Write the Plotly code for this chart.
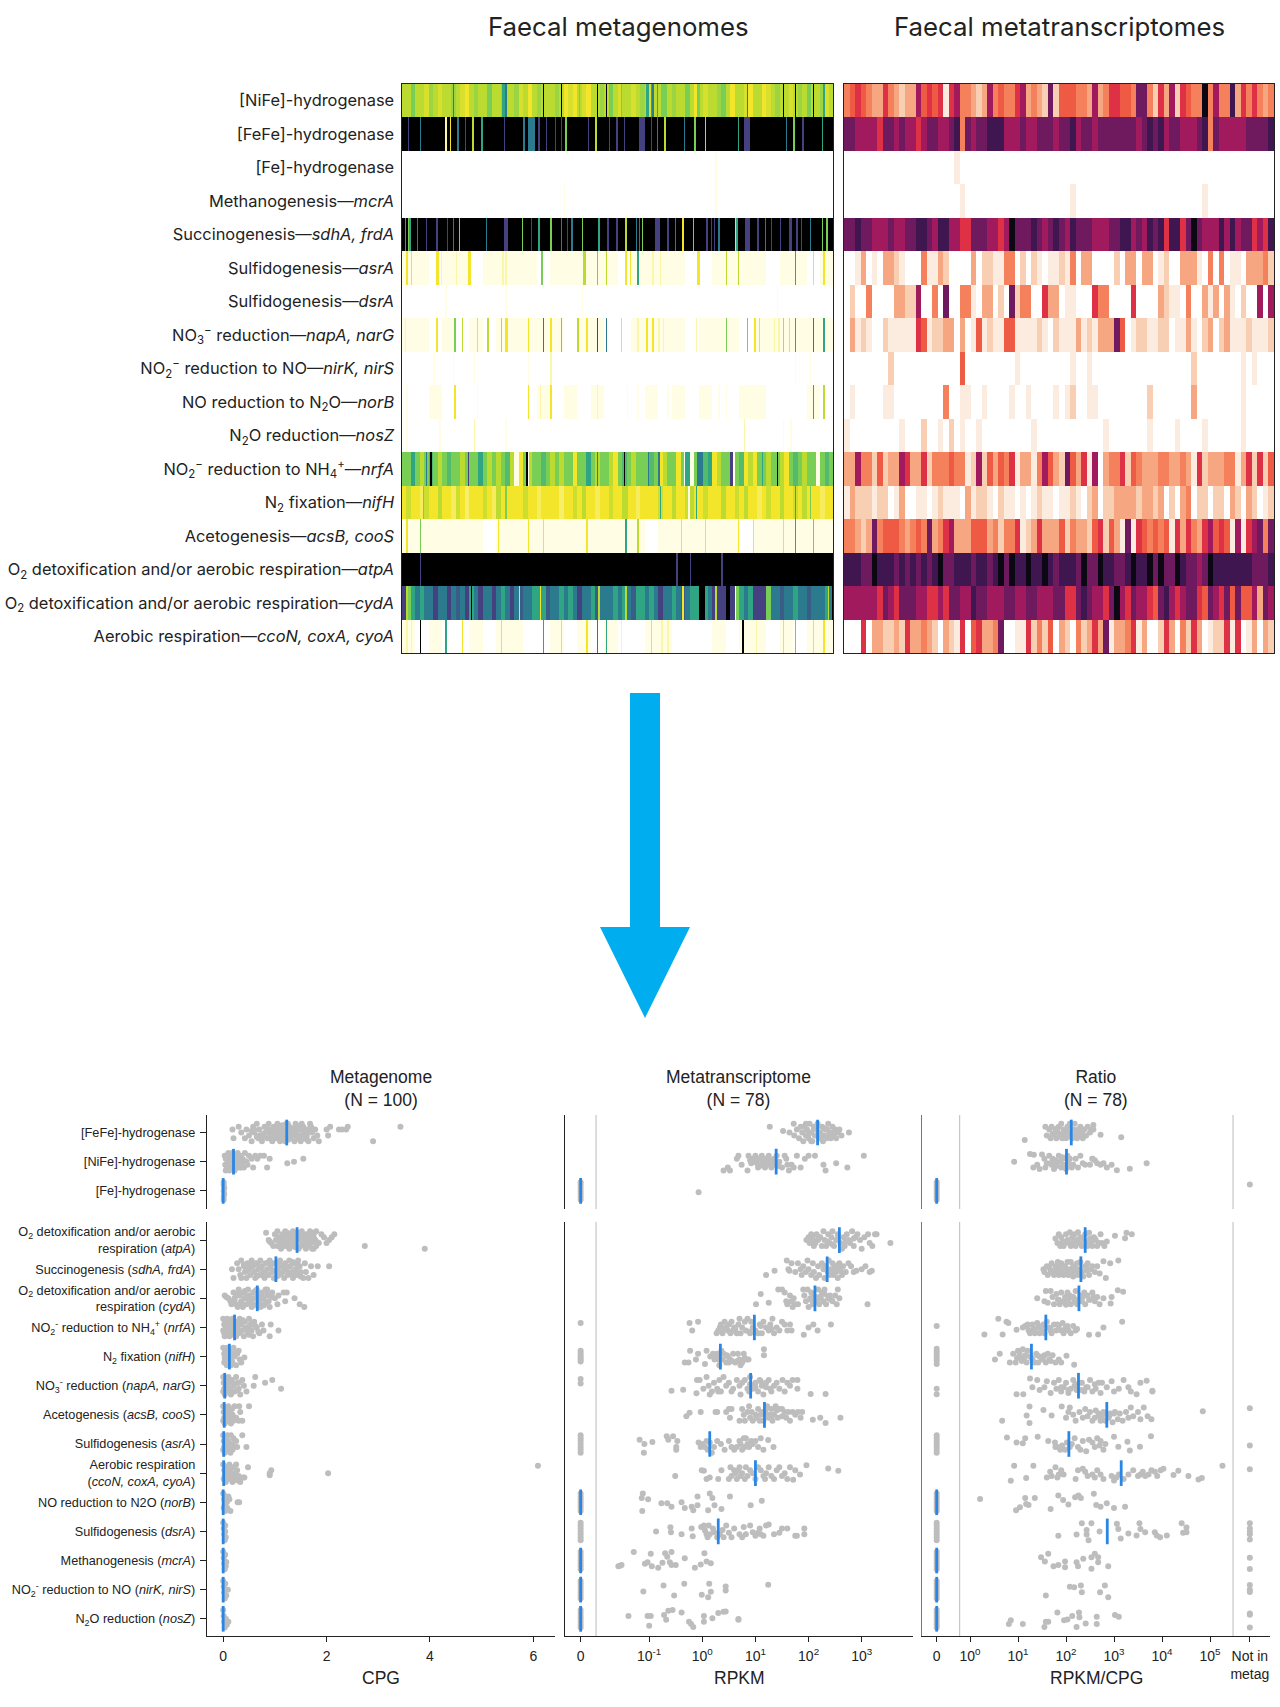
import numpy as np
import plotly.graph_objects as go

W, H = 1280, 1707
def px(x): return x / W
def py(y): return 1 - y / H

# ---------- heatmap labels ----------
heat_labels = ["[NiFe]-hydrogenase", "[FeFe]-hydrogenase", "[Fe]-hydrogenase", "Methanogenesis—<i>mcrA</i>",
    "Succinogenesis—<i>sdhA, frdA</i>", "Sulfidogenesis—<i>asrA</i>", "Sulfidogenesis—<i>dsrA</i>",
    "NO<sub>3</sub><sup>−</sup> reduction—<i>napA, narG</i>", "NO<sub>2</sub><sup>−</sup> reduction to NO—<i>nirK, nirS</i>",
    "NO reduction to N<sub>2</sub>O—<i>norB</i>", "N<sub>2</sub>O reduction—<i>nosZ</i>",
    "NO<sub>2</sub><sup>−</sup> reduction to NH<sub>4</sub><sup>+</sup>—<i>nrfA</i>", "N<sub>2</sub> fixation—<i>nifH</i>",
    "Acetogenesis—<i>acsB, cooS</i>", "O<sub>2</sub> detoxification and/or aerobic respiration—<i>atpA</i>",
    "O<sub>2</sub> detoxification and/or aerobic respiration—<i>cydA</i>", "Aerobic respiration—<i>ccoN, coxA, cyoA</i>"]

# ---------- metagenome heatmap: coarse level per row + narrow stripes [column of 288, level] ----------
mg_base = [
 [4,4,5,4,4,3.5,4.5,4,3.5,4,4,4.5,4,3.5,3,4,4.5,4,4,5,4,4,4.5,4,4,4.5,3.5,4,3,4,4.5,4,4,4,4.5,4,3,3.5,3,4,3.5,3,4,4,4.5,4,5,4,3.5,4,4,3.5,4,4.5,4,3.5,4,4,5,4,4.5,4,4,5,4,3,4,3.5,4,4,4.5,5,4,3,4,4,3.5,3,4,4,3,3.5,4,4.5,4,4,3.5,4,4.5,4,5,4,4,4.5,3.5,4],
 [9], [0], [0], [9],
 [1,1,0,1,1,0,1,1,1,1,0,1,1,1,1,1,0,1,1,1,1,0,0,1,1,1,1,0,1,1,0,1],
 [0],
 [1,1,0,1,0,1,0,1,1,1,1,1,0,1,1,0,0,1,1,1,1,0,1,1,1,0,1,1,1,1,1,1],
 [0], [0,0,1,0,0,0,0,0,0,0,1,0,1,0,1,0,0,0,1,0,1,0,1,0,0,1,1,0,0,0,1,0], [0],
 [5,5,6,5,4,5,5.5,5,4,5,5.5,5,5,4,5,5,5,6,5,4,5,4,5,5.5,4,1,3,5,4,5,5,5.5,5,4,5,4,5,5,3,5,5,6,5,4,5,5,4,3,5,5.5,5,4,5,5,5,5.5,5,3,4,5,5,3,5,6,1,5,5,5.5,6,3,4,5,5,5,5,5.5,3,4,3,5,5,4,5,5,4,3,5,5.5,5,4,5,5,1,5,5.5,5],
 [3,3.7,3,3,2.6,3.7,3,3,4,3,3,2.6,3.7,3,2.5,3,3,3,3.7,3,2.6,4,3,3,3,3,3,3.7,3,3,2.6,3,3,3,3,2.5,3,3,3.7,3,4,3,3,2.6,3,3,3.7,3,3,4,3,3,2.6,3,3,3,3,3.7,3,3,4,3,3,3.7,4,3,3,3.7,3,3,3,4,3,3,3.7,3,4,3,3,2.6,3,3.7,3,3,4,3,3,3.7,3,4,3,3,3,2.6,3,3],
 [1,1,1,1,1,1,0,1,1,1,1,1,1,1,1,1,1,1,0,1,1,1,1,1,1,0,1,1,1,1,1,1],
 [9],
 [8,5,6,7,6,7,7,8,7,7,8,7,7.5,7,8,6,7,8,7,7,8,7,6,7,8,7,7.5,7,7,6,6,6,7.5,7,7,6,7,6,7,8,7,7,6,7.5,7,7,7,6,7,6,7,7.5,6,6,7,6,7,8,7,7,6,7,7.5,7,6,6,7,6,7,8,8,8,9,8,7,6,7,6,8,8,8,5,7,7,7.5,7,7,6,7,7,7.5,7,7,7,6,7],
 [1,0,1,0,0,1,0,1,1,0,0,1,0,1,0,1,0,0,1,1,0,0,0,1,0,1,1,0,1,0,1,1],
]
mg_stripes = [
 [[34,7],[58,5],[67,6],[68,6],[69,7],[94,9],[106,9],[118,5],[130,9],[136,9],[146,5],[163,6],[164,6],[166,6],[167,7],[170,6],[173,5],[197,5],[198,5],[230,7],[254,9],[262,9],[274,9],[281,6]],
 [[4,8],[12,7],[29,2],[32,3],[37,7],[42,8],[47,4],[53,6],[68,8],[81,7],[84,7],[85,7],[86,7],[87,7],[88,7],[91,8],[96,8],[102,8],[106,8],[109,5],[124,8],[129,4],[138,8],[143,8],[148,8],[158,8],[159,8],[160,8],[161,8],[166,8],[170,7],[175,4],[188,7],[195,5],[202,4],[224,6],[228,8],[229,8],[230,8],[231,8],[256,7],[261,5],[267,8],[280,6]],
 [[209,1]],
 [[108,1],[209,1]],
 [[2,6],[4,5],[5,6],[10,7],[16,8],[23,8],[30,8],[34,7],[38,5],[56,7],[68,8],[69,8],[70,8],[80,5],[86,8],[91,6],[99,5],[106,7],[110,8],[113,7],[120,5],[131,6],[137,8],[143,8],[149,4],[156,7],[158,7],[160,5],[169,8],[170,8],[171,8],[177,8],[182,7],[187,3],[194,5],[203,8],[206,8],[208,8],[211,7],[222,3],[223,6],[229,8],[230,8],[231,8],[237,8],[242,7],[246,8],[252,8],[258,8],[259,8],[263,8],[266,8],[272,7],[280,5],[283,5]],
 [[3,3],[6,3],[23,3],[24,3],[26,2],[36,2],[44,3],[45,3],[67,2],[69,2],[93,5],[121,4],[122,4],[130,5],[136,4],[149,3],[152,3],[157,6],[167,2],[172,2],[197,3],[198,3],[216,4],[224,4],[262,6],[274,3],[281,3]],
 [[69,1],[29,1],[120,1],[250,1]],
 [[2,2],[23,3],[35,5],[40,4],[50,3],[57,4],[66,4],[69,3],[70,3],[84,3],[94,7],[99,3],[106,5],[117,4],[123,3],[130,8],[136,7],[146,3],[157,2],[163,3],[167,3],[171,2],[174,2],[196,2],[209,1],[216,5],[230,5],[235,3],[238,3],[248,2],[251,2],[254,4],[258,3],[262,6],[274,7],[281,6]],
 [[21,1],[34,1],[48,1],[84,1],[99,2],[262,1],[272,1]],
 [[3,1],[18,1],[21,1],[35,3],[50,1],[84,3],[92,2],[99,3],[130,2],[150,1],[157,1],[177,1],[181,1],[211,1],[216,1],[228,1],[236,1],[274,6],[281,4]],
 [[3,1],[25,1],[48,2],[69,1],[228,2],[254,1],[259,1]],
 [[16,7],[19,9],[44,8],[83,9],[84,1],[130,7],[148,9],[164,7],[171,7],[188,0],[197,7],[198,7],[199,7],[200,7],[219,8],[220,8],[221,1],[240,6],[250,9]],
 [[14,5],[69,5],[150,4],[172,6],[191,1],[196,6],[262,6],[272,5]],
 [[3,3],[12,5],[64,3],[84,3],[94,3],[123,3],[149,6],[157,4],[186,3],[202,3],[224,3],[234,3],[254,3],[262,6],[274,5]],
 [[12,8],[183,8],[192,8],[213,8]],
 [[3,4],[46,9],[78,3],[92,3],[131,4],[149,4],[187,3],[198,9],[199,9],[200,9],[201,9],[209,4],[221,8],[222,1],[223,5],[224,5],[284,4],[287,9]],
 [[3,2],[6,2],[12,9],[29,6],[40,3],[66,3],[94,6],[106,3],[123,3],[130,7],[136,6],[146,2],[166,3],[173,2],[177,2],[227,9],[236,2],[254,3],[262,5],[274,3],[281,3]],
]

# ---------- metatranscriptome heatmap, 78 samples ----------
mt_rows = [
 [4,5,6,5,4,3,3,6,4,3,2,3,3,7,5,6,5,6,1,6,7,4,4,3,2,3,7,4,5,4,4,6,7,3,4,3,2,8,2,5,5,5,4,4,3,7,3,4,6,6,5,5,4,8,8,4,2,6,3,7,2,6,5,4,4,10,4,7,4,4,9,3,6,4,6,4,3,4],
 [8,8,7,7,7,7,6,8,8,7,8,7,7,6,7,8,8,7,7,8,9,4,8,7,8,8,9,9,9,7,7,7,8,7,7,8,8,8,7,8,8,9,7,8,8,7,8,8,8,8,8,8,8,7,8,9,8,9,7,8,8,7,7,7,8,9,4,8,7,7,7,7,7,8,8,8,8,9],
 [0,0,0,0,0,0,0,0,0,0,0,0,0,0,0,0,0,0,0,0,1,0,0,0,0,0,0,0,0,0,0,0,0,0,0,0,0,0,0,0,0,0,0,0,0,0,0,0,0,0,0,0,0,0,0,0,0,0,0,0,0,0,0,0,0,0,0,0,0,0,0,0,0,0,0,0,0,0],
 [0,0,0,0,0,0,0,0,0,0,0,0,0,0,0,0,0,0,0,0,0,1,0,0,0,0,0,0,0,0,0,0,0,0,0,0,0,0,0,0,0,1,0,0,0,0,0,0,0,0,0,0,0,0,0,0,0,0,0,0,0,0,0,0,0,1,0,0,0,0,0,0,0,0,0,0,0,0],
 [8,8,9,8,8,7,7,7,8,7,7,8,8,9,9,8,7,9,9,7,7,6,6,8,8,8,7,7,6,7,10,8,8,8,9,8,7,8,9,8,7,9,8,8,8,7,7,7,8,8,9,9,7,8,7,9,8,9,6,9,9,6,8,10,8,7,7,7,9,7,9,7,8,8,6,7,6,9],
 [0,0,1,3,0,1,0,3,3,2,1,0,0,0,4,1,1,3,2,0,0,0,0,3,0,2,2,1,1,4,4,0,2,0,2,1,0,1,1,2,1,4,0,3,3,0,0,0,0,2,0,3,3,0,3,3,0,1,2,0,0,3,3,3,1,0,4,0,4,0,1,1,0,3,3,3,4,2],
 [0,2,0,0,4,0,0,0,0,3,3,2,2,7,0,0,4,0,8,0,0,4,4,1,0,3,3,0,2,0,8,2,4,4,0,0,6,3,3,0,1,1,0,0,0,6,4,4,0,0,0,0,6,0,0,0,0,3,2,1,1,0,4,0,0,3,1,3,0,3,1,0,2,0,0,7,0,7],
 [0,3,1,2,1,0,0,2,1,1,1,1,1,6,5,1,2,2,3,3,0,3,0,1,5,1,2,1,1,5,5,1,1,1,1,2,1,0,2,1,1,1,3,1,2,1,3,3,3,8,5,0,1,2,2,1,1,2,2,0,1,1,3,1,0,2,3,0,2,3,1,1,1,2,1,1,1,2],
 [0,0,0,0,0,0,0,0,2,0,0,0,0,0,0,0,0,0,0,0,0,5,0,0,0,0,0,0,0,0,0,1,0,0,0,0,0,0,0,0,0,1,0,0,1,0,0,0,0,0,0,0,0,0,0,0,0,0,0,0,0,0,0,2,0,0,0,0,0,0,0,0,1,0,1,0,0,0],
 [0,1,0,0,0,0,0,1,1,0,0,0,0,0,0,0,0,0,4,0,0,1,1,0,0,1,0,0,0,0,1,0,0,1,0,0,0,0,1,0,1,2,0,0,1,1,0,0,0,0,0,0,0,0,0,2,0,0,0,0,0,0,0,3,0,0,0,0,0,0,0,0,1,0,0,0,0,0],
 [1,0,0,0,0,0,0,0,0,0,1,0,0,0,2,0,0,1,0,2,0,1,0,0,1,0,0,0,0,0,0,0,0,0,1,0,0,0,0,0,0,0,0,0,0,0,0,1,0,0,0,0,0,0,0,1,0,0,0,0,1,0,0,0,0,1,0,0,0,0,0,0,1,0,0,0,0,0],
 [3,3,7,4,4,2,5,2,3,3,7,6,3,3,6,2,4,4,4,5,4,4,1,2,7,2,5,3,5,4,6,1,3,3,1,4,7,5,3,2,8,5,3,6,1,7,0,3,4,4,6,2,5,4,3,3,3,4,4,3,3,4,3,1,6,2,3,3,3,4,4,1,3,6,2,6,2,5],
 [1,3,2,2,2,1,2,2,0,1,3,0,0,1,1,0,1,2,1,1,1,0,3,1,2,2,1,0,2,1,1,0,1,0,1,2,1,1,0,1,1,2,1,0,2,3,0,2,2,3,3,3,3,2,3,3,2,3,0,2,0,3,4,0,2,2,0,2,2,0,3,2,0,3,2,0,1,2],
 [4,4,3,2,3,8,4,5,5,5,4,3,4,5,4,8,3,4,6,7,3,3,3,5,5,5,3,4,2,4,4,6,1,2,3,6,3,3,3,5,2,4,3,3,2,5,6,2,5,3,1,8,1,6,5,4,5,4,5,1,6,3,6,4,3,6,7,5,6,5,1,7,1,6,7,8,4,8],
 [9,9,9,8,8,10,9,9,9,8,9,8,9,8,9,8,9,10,8,8,9,9,9,8,9,9,8,9,10,8,10,9,9,10,9,9,10,9,8,9,9,9,8,10,8,8,10,9,9,8,8,9,10,9,9,10,8,10,8,8,10,9,8,8,7,8,10,9,9,9,9,9,9,9,8,8,8,9],
 [7,7,7,7,7,7,6,8,7,6,8,8,8,7,7,6,6,7,6,8,8,7,7,9,8,8,7,7,7,8,8,7,7,8,8,7,7,7,8,8,6,6,8,9,8,7,7,6,8,10,7,6,8,7,7,6,5,8,9,7,6,7,8,8,6,5,8,7,6,8,5,8,5,5,7,3,8,7],
 [0,0,0,6,0,3,3,2,2,3,2,6,3,3,4,3,2,0,3,2,1,6,0,5,6,3,3,4,8,0,0,1,1,6,2,4,2,5,0,3,2,0,4,2,3,6,3,8,1,3,3,4,6,1,3,0,0,2,6,3,0,4,2,6,3,0,1,2,2,6,1,6,0,1,3,0,3,2],
]

# ---------- bean-plot rows ----------
row_labels_top = ["[FeFe]-hydrogenase", "[NiFe]-hydrogenase", "[Fe]-hydrogenase"]
row_labels_bottom = ["O<sub>2</sub> detoxification and/or aerobic<br>respiration (<i>atpA</i>)", "Succinogenesis (<i>sdhA, frdA</i>)",
    "O<sub>2</sub> detoxification and/or aerobic<br>respiration (<i>cydA</i>)", "NO<sub>2</sub><sup>-</sup> reduction to NH<sub>4</sub><sup>+</sup> (<i>nrfA</i>)",
    "N<sub>2</sub> fixation (<i>nifH</i>)", "NO<sub>3</sub><sup>-</sup> reduction (<i>napA, narG</i>)", "Acetogenesis (<i>acsB, cooS</i>)",
    "Sulfidogenesis (<i>asrA</i>)", "Aerobic respiration<br>(<i>ccoN, coxA, cyoA</i>)", "NO reduction to N2O (<i>norB</i>)",
    "Sulfidogenesis (<i>dsrA</i>)", "Methanogenesis (<i>mcrA</i>)", "NO<sub>2</sub><sup>-</sup> reduction to NO (<i>nirK, nirS</i>)", "N<sub>2</sub>O reduction (<i>nosZ</i>)"]

Z = -2.29   # RPKM = 0 slot on the log axis
R0 = -0.694 # ratio = 0 slot
NM = 5.83   # "not in metag" slot

cpg_median = [1.23,.2,0, 1.43,1.02,.66,.22,.12,.03,.02,.01,.01,0,0,0,0,0]
rpkm_median = [2.17,1.39,Z, 2.58,2.35,2.12,.98,.34,.91,1.17,.14,1.0,Z,.3,Z,Z,Z]
ratio_median = [2.11,2.01,R0, 2.4,2.31,2.27,1.58,1.28,2.26,2.85,2.06,3.15,R0,2.86,R0,R0,R0]

cpg_x = [
 [.18,.2,.3,.35,.42,.45,.5,.55,.58,.6,.65,.68,.7,.72,.75,.8,.82,.85,.88,.9,.92,.95,.98,1.0,1.02,1.05,1.05,1.08,1.1,1.1,1.12,1.15,1.18,1.2,1.2,1.22,1.28,1.3,1.3,1.32,1.35,1.38,1.4,1.4,1.42,1.45,1.48,1.5,1.5,1.52,1.55,1.58,1.6,1.6,1.62,1.65,1.68,1.7,1.72,1.75,1.78,1.82,1.85,2.0,2.03,2.07,2.24,2.3,2.38,2.41,2.9,3.43,.95,1.05,1.15,1.25,1.35,1.45,1.55,.85, .6,.7,.78,.86,.94,1.0,1.08,1.14,1.2,1.26,1.32,1.38,1.44,1.5,1.56,1.62,1.68,.55,.65,.75,.85,1.0,1.1,1.3,1.42,1.52,1.66,1.74],
 [.03,.04,.05,.07,.08,.1,.1,.12,.13,.15,.15,.17,.18,.2,.22,.23,.25,.25,.27,.28,.3,.32,.33,.35,.37,.4,.42,.45,.47,.5,.55,.58,.62,.66,.72,.79,.85,.9,1.24,1.37,1.55, .05,.08,.12,.16,.19,.23,.27,.31,.35,.4,.07,.11,.14,.18,.22,.26,.3,.34],
 [.01,.01,.02,.01,.02,.01,.01],
 [.83,.88,.9,.93,.97,1.0,1.02,1.05,1.05,1.08,1.1,1.12,1.15,1.18,1.2,1.2,1.22,1.25,1.28,1.3,1.3,1.33,1.35,1.38,1.4,1.46,1.48,1.5,1.5,1.52,1.55,1.58,1.6,1.6,1.62,1.65,1.68,1.7,1.7,1.72,1.75,1.78,1.8,1.8,1.85,1.9,1.95,2.0,2.05,2.1,2.15,2.74,3.9,1.1,1.25,1.4,1.55,1.75, 1.08,1.16,1.24,1.32,1.4,1.48,1.56,1.64,1.72,1.8,1.12,1.2,1.28,1.36,1.44,1.52,1.6,1.68,1.76,1.1,1.22,1.34,1.5,1.62,1.74],
 [.17,.2,.27,.3,.33,.35,.4,.42,.45,.47,.5,.52,.55,.58,.6,.62,.65,.68,.7,.72,.75,.78,.8,.82,.85,.88,.9,.92,.95,.98,1.0,1.05,1.08,1.1,1.12,1.15,1.18,1.2,1.22,1.25,1.28,1.3,1.32,1.35,1.38,1.4,1.42,1.45,1.48,1.5,1.55,1.58,1.6,1.65,1.7,1.75,1.83,2.05,.6,.75,.9,1.05, .35,.45,.55,.65,.72,.8,.88,.96,1.04,1.1,1.18,1.26,1.34,1.42,1.5,.4,.5,.6,.7,.82,.94,1.02,1.12,1.22,1.32,1.44],
 [.03,.06,.1,.14,.16,.2,.22,.25,.28,.3,.32,.35,.38,.4,.42,.45,.48,.5,.52,.55,.58,.6,.62,.65,.68,.7,.72,.75,.78,.8,.82,.85,.88,.9,.95,1.0,1.05,1.07,1.17,1.2,1.23,1.38,1.48,1.57,.4,.55,.7,.85, .22,.3,.38,.46,.54,.62,.7,.78,.86,.94,.26,.34,.42,.5,.58,.66,.74,.82],
 [.0,.0,.02,.03,.04,.05,.07,.08,.1,.1,.12,.14,.15,.17,.18,.2,.22,.25,.25,.28,.3,.32,.35,.37,.4,.42,.45,.48,.5,.52,.55,.58,.6,.65,.7,.75,.78,.9,.92,1.07,.1,.3,.5, .02,.08,.14,.2,.26,.32,.38,.44,.5,.56,.62,.68,.04,.12,.18,.24,.34,.42,.5,.6],
 [.0,.02,.02,.04,.05,.07,.08,.1,.12,.13,.15,.17,.18,.2,.22,.25,.27,.3,.32,.35,.41,.03,.1,.16,.24],
 [.0,.0,.01,.02,.03,.05,.06,.08,.1,.12,.14,.15,.17,.2,.22,.25,.28,.3,.33,.37,.4,.45,.59,.62,.81,.95,1.12,.05,.12,.2,.28,.04,.16,.3],
 [.0,.0,.01,.02,.03,.05,.06,.08,.1,.12,.13,.15,.17,.18,.2,.22,.25,.3,.31,.33,.37,.5,.06,.12,.18],
 [.0,.0,.01,.02,.03,.04,.05,.07,.08,.1,.12,.14,.15,.17,.18,.2,.22,.25,.27,.37,.45,.04,.1,.16],
 [.0,.01,.02,.03,.05,.06,.08,.1,.12,.13,.15,.18,.2,.22,.23,.25,.27,.3,.33,.38,.41,.48,.9,.93,.9,2.03,6.09,.07,.14,.21,.28],
 [.0,.01,.02,.03,.04,.05,.07,.08,.1,.12,.14,.28,.31],
 [.0,.01,.02,.03,.04,.05,.04],
 [.0,.01,.02,.03,.04,.05,.06],
 [.0,.01,.02,.03,.04,.06,.09],
 [.0,.01,.02,.03,.05,.07,.1],
]
cpg_j = [
 [-1,2,-2,0,2,-1,1,3,-2,0,-3,2,-1,1,3,-2,0,2,-3,-1,1,3,-2,0,2,-3,-1,1,3,-2,0,2,-1,1,3,-3,-2,0,2,-1,1,3,-3,-2,0,2,-1,1,3,-3,-2,0,2,-1,1,3,-3,-2,0,2,-1,1,3,-1,1,-2,-1,-1,-1,-2,3,-2,0,-1,2,-3,1,-2,2,0,-1,1, .5,-1.5,2.5,-.5,1.5,-2.5,.5,2.5,-1.5,-.5,1.5,-2.5,.5,2.5,-1.5,-.5,1.5,1.5,-.5,.5,-1,1,-1,-1,-.5,-1,.5,-.5],
 [-2,1,3,-1,2,-3,0,3,-2,1,-1,2,-3,0,3,-2,1,-1,2,-3,0,2,-2,1,-1,2,-3,0,1,-2,-1,2,-2,-1,-2,-2,2,-1,.5,0,-1, -1,.5,2,-.5,-2,1.5,-1,.5,2,-.5,2.5,-2.5,1,-1.5,2.5,0,-1.5,1],
 [-3,-2,-1,0,1,2,3],
 [-2.5,0,.5,1,2,-2,0,2,-3,-1,1,3,-2,0,2,-3,-1,1,3,-2,0,2,-3,-1,1,3,-2,0,2,-3,-1,1,3,-2,0,2,-3,-1,1,3,-2,0,2,-3,1,-2,-1,1,0,-1,-2,2,3,-1,2,-2,1,3, -.5,1.5,-2.5,.5,2.5,-1.5,-.5,1.5,-2.5,.5,2.5,-1.5,-.5,1.5,-2.5,.5,2.5,-1.5,-.5,2,-1,1,-1,.5,-.5],
 [0,3,-2,0,2,-3,-1,1,3,-2,0,2,-3,-1,1,3,-2,0,2,-3,-1,1,3,-2,0,2,-3,-1,1,3,-2,0,2,-3,-1,1,3,-2,0,2,-3,-1,1,3,-2,0,2,-3,-1,1,3,-2,1,3,-1,2,-1,-1,-2,2,-2,0,3, .5,-1.5,2.5,-.5,1.5,-2.5,.5,2.5,-1.5,-.5,1.5,-2.5,.5,2.5,-1.5,-1,1,-1,2,-2,.5,1.5,-.5,1.5,-1.5,.5,.5],
 [-1,-.5,0,1,2,-2,0,2,3,-3,-1,1,3,-2,0,2,-3,-1,1,3,-2,0,2,-3,-1,1,3,-2,0,2,-3,-1,1,3,-2,0,2,-1,-2,1,-2,0,2,3,-2,0,2,-3, .5,-1.5,2.5,-.5,1.5,-2.5,.5,2.5,-1.5,-.5,-1,1.5,-2.5,.5,2.5,-1.5,-.5,1.5],
 [-3,1,-1,3,-2,0,2,-3,-1,1,3,-2,0,2,-3,-1,1,3,-2,0,2,-3,-1,1,3,-2,0,2,-3,-1,1,3,-2,0,2,-1,1,3,-1,1,2,-2,0,2, .5,-1.5,2.5,-.5,1.5,-2.5,.5,2.5,-1.5,-.5,1.5,-2,1.5,-.5,2.5,-2.5,.5,1.5,-1,.5],
 [-3,-1,2,-2,0,3,-3,1,-2,0,3,-1,2,-3,0,3,-1,-2,1,2,.3,.5,-.5,1.5,-1.5],
 [-3,2,-1,1,3,-2,0,2,-3,-1,1,3,-2,0,2,-3,-1,1,3,-2,0,2,0,-3,-1,-2,1,.5,-1.5,-.5,1.5,.5,2.5,-1],
 [-3,2,-1,1,3,-2,0,2,-3,-1,1,3,-2,0,2,-3,1,2,-3,-1,2,-3,.5,-.5,1.5],
 [-3,2,-1,1,3,-2,0,2,-3,-1,1,3,-3,0,2,-2,1,-1,1,-3,1,.5,-.5,1.5],
 [-3,2,-1,1,3,-2,0,2,-3,-1,1,3,-2,0,2,-3,-1,1,3,1.5,1.5,-2,0,-1,.7,0,-2.5,.5,-.5,1.5,2.5],
 [-3,2,-1,1,3,-2,0,2,-2,-1,3,0,0],
 [-3,-1,1,3,-2,2,0],
 [-3,-1,1,3,-2,2,.5],
 [-3,-1,1,3,-2,2,0],
 [-3,-1,1,3,0,2,1],
]

rpkm_x = [
 [1.27,1.52,1.64,1.72,1.73,1.78,1.82,1.85,1.88,1.9,1.92,1.95,1.97,2.0,2.02,2.05,2.07,2.1,2.12,2.15,2.17,2.2,2.22,2.25,2.27,2.3,2.32,2.35,2.37,2.4,2.42,2.45,2.47,2.5,2.52,2.55,2.58,2.62,2.76,1.95,2.05,2.15,2.25,2.35,2.0,2.1,2.2,2.3,2.4,2.48],
 [.4,.48,.52,.65,.68,.74,.85,.87,.9,.95,.98,1.0,1.03,1.05,1.08,1.1,1.12,1.15,1.18,1.2,1.22,1.25,1.28,1.3,1.32,1.35,1.4,1.43,1.45,1.5,1.55,1.58,1.6,1.63,1.68,1.72,1.78,1.85,1.93,2.0,2.12,2.28,2.32,2.52,2.73,3.04,.92,1.0,1.08,1.16,1.26,1.34],
 [-.07],
 [1.96,2.0,2.02,2.05,2.08,2.1,2.13,2.15,2.18,2.22,2.25,2.28,2.3,2.33,2.37,2.4,2.43,2.45,2.48,2.52,2.55,2.6,2.63,2.66,2.68,2.72,2.75,2.78,2.82,2.85,2.88,2.92,2.97,3.0,3.05,3.12,3.15,3.2,3.25,3.28,3.54,2.1,2.2,2.35,2.45,2.55,2.7,2.85],
 [1.2,1.36,1.59,1.62,1.64,1.68,1.75,1.8,1.85,1.87,1.9,1.95,1.98,2.0,2.05,2.08,2.1,2.14,2.18,2.2,2.25,2.28,2.3,2.33,2.36,2.38,2.4,2.42,2.45,2.47,2.5,2.52,2.55,2.58,2.6,2.63,2.65,2.7,2.75,2.8,2.85,2.9,3.0,3.07,3.15,3.19,2.3,2.4,2.5,2.6,2.44,2.56],
 [1.01,1.1,1.25,1.43,1.5,1.55,1.58,1.6,1.65,1.68,1.7,1.72,1.75,1.8,1.9,1.92,1.95,1.98,2.0,2.03,2.05,2.08,2.1,2.15,2.18,2.2,2.23,2.25,2.28,2.3,2.33,2.37,2.4,2.45,2.5,2.53,2.55,2.58,3.11,2.05,2.2,2.3,2.42],
 [-.24,-.08,-.19,.27,.3,.33,.35,.38,.42,.45,.48,.5,.53,.55,.58,.6,.65,.68,.7,.72,.75,.8,.82,.85,.9,.92,.95,1.0,1.05,1.08,1.12,1.15,1.2,1.25,1.28,1.32,1.35,1.4,1.45,1.5,1.55,1.6,1.65,1.68,1.91,2.0,2.09,2.17,2.42,.4,.62,.88,1.1,1.3],
 [-.23,-.33,-.26,-.12,-.08,.05,.08,.15,.2,.23,.28,.3,.32,.36,.4,.45,.48,.5,.52,.58,.62,.67,.7,.72,.75,.78,.8,.83,.87,1.16,1.16,.26,.38,.46,.56,.66],
 [-.58,-.36,-.11,.14,.3,-.1,-.05,.02,.08,.12,.18,.22,.28,.32,.35,.4,.45,.5,.55,.58,.65,.7,.72,.75,.8,.85,.88,.9,.92,.95,1.0,1.05,1.08,1.12,1.15,1.2,1.25,1.28,1.3,1.35,1.4,1.45,1.51,1.55,1.6,1.65,1.7,1.79,1.79,2.04,2.32,.9,1.0,1.1,1.2],
 [-.3,-.24,-.03,.25,.28,.45,.5,.52,.55,.7,.75,.78,.8,.85,.88,.9,.93,.95,1.0,1.02,1.05,1.08,1.1,1.12,1.15,1.2,1.22,1.25,1.28,1.3,1.32,1.35,1.38,1.42,1.45,1.5,1.55,1.58,1.62,1.65,1.7,1.75,1.8,1.85,1.88,2.08,2.22,2.32,2.6,1.2,1.3,1.4,1.5],
 [-1.18,-1.09,-.94,-1.1,-.67,-.64,-.55,-.47,-.49,-.49,-.07,-.03,0,.05,.08,.1,.14,.18,.22,.28,.35,.42,.5,.55,.6,.65,.7,.72,.75,.78,.8,.82,.85,.88,.92,.95,1.0,1.05,1.1,1.15,1.24,1.34],
 [-.51,-.01,.03,.08,.14,.3,.36,.5,.53,.55,.6,.62,.65,.68,.7,.72,.75,.8,.82,.85,.9,.95,1.0,1.05,1.1,1.15,1.18,1.2,1.25,1.3,1.35,1.4,1.45,1.5,1.55,1.6,1.65,1.71,1.75,1.84,1.96,2.37,2.56],
 [-1.12,-1.14,-1.02,-1.13,-.77,-.66,-.58,-.39,-.33,-.2,-.17,-.09,-.09,.11,.14,.19,.23,.36,.52,.91,1.12],
 [-.87,-.6,-.59,-.39,-.2,-.18,-.02,.03,.05,.08,.1,.12,.14,.2,.22,.28,.33,.38,.4,.45,.5,.55,.6,.7,.75,.78,.82,.9,.95,1.0,1.05,1.08,1.1,1.15,1.2,1.25,1.35,1.45,1.5,1.6,1.75,1.78,1.92,1.92],
 [-1.29,-.97,-.7,-.58,-.66,-.33,.04,-1.08,-1.03,-1.58,-1.52,-1.55,-.95,-.83,-.75,-.61,-.58,-.5,-.14,-.03,.08,.16],
 [-1.11,-.73,-.34,-.53,-.01,.13,.16,.11,.44,.44,1.24],
 [-1.39,-1.03,-.97,-1.0,-.72,-.68,-.64,-.56,-.39,-.25,-.21,-.17,.03,.03,.19,.3,.4,.44,.68,.68],
]
rpkm_j = [
 [-2,-.5,0,-3,1,-1,2,-2,0,3,-2,1,-1,2,-3,0,3,-2,1,-1,-3,2,0,-2,3,1,-1,2,-3,0,2,-2,1,-1,2,0,-1,1,0,-3,3,-2,2,-1,.5,-1.5,.5,-1.5,.5,-.5],
 [3,2,3,-1,-2,1,3,-2,-.5,-1,0,-2,.5,2,-1,1,-2,0,2,-1,1,-2,0,2,.5,-1,-2,1.5,0,2,-2,-1,1,3,1,2,-2,2,-1,-2,-2,1,3,.5,2,-2,.5,-1,1.5,.5,-.5,1],
 [.5],
 [0,-1,1,-2,-.5,2,1,-2,0,-1,2,-3,0,2,-2,1,-1,-3,2,0,-2,1,3,-1,2,-2,0,1,-3,2,-1,-2,0,3,-1,-2,1,2,-2,-2,1,.5,-1,.5,1.5,-.5,.5,-.5],
 [2,.5,-3,0,.5,-2,1,-2,0,2,-1,1,-3,0,2,-2,1,3,-1,2,-2,0,3,-1,1,-3,2,0,-2,2,-1,1,3,-2,0,2,-1,1,-2,-1,1,.5,0,-1,1,.5,-1,.5,-.5,.5,1.5,-1.5],
 [2,-1.5,1.5,-3,-3,-2,1,2,-1,1,3,0,2,2,-3,-1,1,-3,3,0,-2,2,-1,1,-3,2,0,-2,1,-3,2,0,-1,1,-1,2,-3,0,2,.5,-.5,-1.5,.5],
 [-1.5,-2,1,2,1,0,-1,2,-2,0,1,-1,2,-2,1,0,2,-1,-3,2,0,-2,1,-3,2,-2,0,1,2,-1,2,-2,0,1,-1,-3,2,0,1,-2,-1,1,-1,1,2.5,0,-1,1,-1,.5,.5,1.5,-.5,.5],
 [-2,2,2,1,-1,2.5,-2,0,-1,1,-1,1,3,-2,-1,2,0,2,1,-1,2,-1,1,3,2,-1,.5,1,1,-2.5,-.5,.5,1,-.5,1.5,1.5],
 [1.7,1.4,2.6,3,2,-2,-2,1,-3,0,2,-1,1,-2,2,-3,0,-1,2,1,-2,0,3,-1,-2,1,2,-3,0,1,-1,2,-2,0,3,-1,-2,1,2,0,-1,1,-2,2,-1,0,-2,-2,1,2.8,2.8,-.5,.5,-1.5,.5],
 [.5,-.7,-1,-1,-1,-1,-2,1,-2,2,-2,0,2,-1,-3,1,-1,2,0,1,-2,2,0,-1,2,-2,-3,1,0,-2,2,0,-3,1,-2,-2,-1,1,-1,2,-1,0,-1,1,-1,1.7,1,2.8,1,-.5,.5,-1.5,.5],
 [-1.5,0,-.7,3,-2.7,-1.5,-2.7,-1,1,2,-.5,1,0,1,-1,2,-.5,3,1,-1,0,2,-1,1,2,1,-1,0,2,-2,1,-2,0,1,-1,0,-1,1,-2,2,-1.4,1],
 [1,-1,-.8,2,1.5,2,-1,2,-2,1,-1,0,2,-1,-2,1,0,2,-2,1,-1,0,2,-2,-1,1,2,0,-2,1,2,-1,-2,1,0,2,-2,2.3,-1,.5,-2.7,-1.6,-.8],
 [-3,-1.5,-1,3,.3,.3,1.5,0,2,1.5,2.7,1,-2,2.7,-3,-1.5,1,2.3,-2,1,-.5],
 [0,-1.4,.3,1,-1,1.7,-1.5,-2,-.3,1,2,-2,1,-1,.3,2,1,-.5,2,-2,.5,2,-1,1,2,-1.5,1,-2,.3,1.5,.5,-1,1,1.5,-2,-2.4,1,.5,-1,-1,1.5,1.5,-1,1],
 [-2.9,-2.3,-2.5,-2.9,-1.3,-.8,-2.5,1.1,.6,2,1.5,1.8,2,2.5,.8,.6,1.5,1.5,2.5,1.4,.3,.9],
 [.6,-1.4,-2,2,1.7,-2,.7,2.6,-1.1,.3,-1.7],
 [-1,-1,-1,2.4,-1.3,.3,-2.8,-3,-2.2,1,1.8,2.8,-1,1,-.2,-2,-2.4,-2.5,.1,.3],
]
rpkm_zero_j = [[],[],[-3,-2,-1,0,1,2,3],[],[],[],[-1.5],[-2,-1.2,-.4,.4,1,1.7],[-2.3,-.8],[],[-3,-2,-1,0,1,2,3],[],[-3,-2,-1,0,1,2,3],[-3,-2,-1,0,1,2,3],[-3,-2,-1,0,1,2,3],[-3,-2,-1,0,1,2,3],[-3,-2,-1,0,1,2,3]]

ratio_x = [
 [1.14,1.57,1.6,1.65,1.68,1.7,1.75,1.78,1.8,1.83,1.85,1.88,1.9,1.92,1.95,1.98,2.0,2.03,2.05,2.08,2.1,2.13,2.15,2.18,2.2,2.23,2.25,2.28,2.3,2.33,2.35,2.38,2.42,2.45,2.5,2.53,2.57,2.57,2.72,3.15,1.72,1.82,1.92,2.02,2.12,2.22,2.32],
 [.92,1.25,1.32,1.33,1.4,1.45,1.5,1.55,1.57,1.6,1.65,1.7,1.72,1.75,1.78,1.8,1.85,1.88,1.9,1.93,1.95,2.0,2.03,2.05,2.08,2.12,2.15,2.2,2.25,2.3,2.35,2.4,2.5,2.55,2.6,2.65,2.72,2.78,2.85,2.95,3.06,3.33,3.68,1.68,1.8,1.92,2.05,2.55],
 [],
 [1.78,1.82,1.85,1.88,1.9,1.93,1.95,2.0,2.03,2.05,2.08,2.1,2.13,2.15,2.18,2.2,2.23,2.25,2.28,2.3,2.33,2.37,2.4,2.42,2.45,2.48,2.5,2.53,2.55,2.58,2.62,2.65,2.68,2.72,2.75,2.8,2.85,3.02,3.23,3.26,3.37,2.0,2.2,2.36,2.5,2.6],
 [1.53,1.55,1.6,1.62,1.65,1.68,1.7,1.73,1.75,1.78,1.8,1.83,1.85,1.88,1.9,1.93,1.95,1.98,2.0,2.03,2.05,2.08,2.1,2.13,2.15,2.18,2.2,2.23,2.25,2.28,2.3,2.33,2.36,2.4,2.43,2.45,2.48,2.52,2.55,2.6,2.65,2.7,2.83,2.92,3.09,2.78,1.7,1.85,2.0,2.15,2.3,2.42],
 [1.4,1.55,1.58,1.62,1.68,1.72,1.75,1.8,1.83,1.87,1.9,1.95,1.98,2.0,2.03,2.05,2.08,2.1,2.15,2.18,2.2,2.23,2.25,2.3,2.33,2.38,2.4,2.45,2.5,2.55,2.6,2.65,2.7,2.78,2.93,2.95,3.08,3.19,2.1,2.22,2.35,2.48,2.58,1.85],
 [.3,.59,.68,.8,.76,.97,1.1,1.15,1.2,1.22,1.25,1.3,1.32,1.35,1.4,1.43,1.45,1.5,1.53,1.55,1.6,1.65,1.68,1.7,1.75,1.8,1.85,1.9,1.93,1.95,2.0,2.03,2.05,2.1,2.15,2.2,2.23,2.48,2.67,2.78,3.17,1.2,1.36,1.5,1.68,1.82,1.98],
 [.52,.62,.83,.9,.95,.98,1.0,1.03,1.05,1.08,1.1,1.13,1.18,1.2,1.25,1.3,1.35,1.38,1.42,1.45,1.5,1.55,1.58,1.62,1.68,1.72,1.78,1.85,1.9,2.01,2.17,1.15,1.28,1.4,1.52,1.65],
 [.97,1.11,1.25,1.3,1.4,1.45,1.55,1.6,1.68,1.75,1.8,1.85,1.9,1.95,2.0,2.05,2.1,2.15,2.18,2.22,2.28,2.33,2.38,2.42,2.5,2.55,2.62,2.68,2.72,2.75,2.85,2.95,3.0,3.1,3.2,3.3,3.35,3.47,3.55,3.68,3.8,3.8,1.9,2.05,2.2,2.32,2.45,2.6],
 [.67,1.18,1.24,1.24,1.53,1.7,1.91,2.0,2.05,2.08,2.15,2.2,2.28,2.35,2.4,2.45,2.5,2.55,2.6,2.62,2.68,2.72,2.75,2.78,2.82,2.88,2.92,2.97,3.02,3.08,3.12,3.18,3.25,3.3,3.35,3.4,3.5,3.55,3.62,3.7,3.78,4.85,2.7,2.8,2.9,3.0],
 [.77,.97,1.1,1.15,1.41,1.63,1.77,1.78,1.82,1.88,1.92,1.98,2.02,2.08,2.12,2.18,2.25,2.3,2.35,2.42,2.48,2.55,2.6,2.65,2.7,2.72,2.78,2.82,3.0,3.09,3.28,3.33,3.54,3.77],
 [.85,.92,1.17,1.32,1.6,1.67,1.7,1.78,1.82,1.85,1.9,1.95,2.2,2.25,2.35,2.4,2.45,2.55,2.6,2.65,2.72,2.78,2.95,3.0,3.05,3.1,3.2,3.3,3.4,3.5,3.55,3.6,3.65,3.72,3.78,3.85,3.9,3.97,4.03,4.24,4.34,4.55,4.76,4.83,5.26],
 [.21,.96,1.04,1.15,1.17,1.22,1.35,1.68,1.84,1.94,2.05,2.19,2.26,2.31,2.58,2.63,2.72,2.85,3.0,3.23],
 [1.84,2.22,2.33,2.43,2.43,2.53,2.47,2.7,3.06,3.09,3.14,3.3,3.47,3.53,3.55,3.65,3.85,3.89,3.96,4.1,4.41,4.51,4.51,4.44],
 [1.48,1.63,1.56,1.74,1.84,1.98,1.98,2.22,2.25,2.36,2.53,2.6,2.67,2.67,2.53,2.88],
 [1.58,2.08,2.17,2.31,2.33,2.71,2.81,2.88],
 [.81,.85,1.1,1.55,1.58,1.63,1.82,1.96,2.03,2.13,2.22,2.27,2.28,2.41,2.64,2.64,3.02,3.1],
]
ratio_j = [
 [2.6,-2,1,-1,2,-2,.5,-1,2,0,-2,1,-3,2,-1,.5,2,-2,0,-3,1,2,-1,-3,.5,2,-1,1,-2,0,2,-1,1,-2,0,-1,-2.6,-1,.8,1.6,.5,-1.5,.5,-.5,1.5,-.5,.5],
 [0,-2.6,2,-2.4,1,2.5,-2.5,-1,2,.5,-2,1,-1,2.5,-.5,1,-2,0,2,-1,1,2.5,-2,0,-1,2,1,-1,2,-2,.5,1,1,-1,-.5,.5,1,.5,2,1,2.9,2.4,.5,.5,1.5,-1.5,1.5,-1],
 [],
 [-.5,1,-2,2,-1,.5,2,-2,0,1,-2.7,2,-1,.5,-2,2,0,-2.7,1,-1,2,0,-2,1,2,-2.5,-.5,1,2,-1,0,2,1,-2,1,2,.5,-1.5,-.6,-2.5,-2,.5,.5,-.5,.5,-.5],
 [0,1,-1,2,-.5,1,-2,1,2,-1,.5,-2.5,2,0,-2,1,2,-1,.5,-2.5,2,0,-2.5,1,2.5,-1,.5,-2,2,0,-2.5,1,2.5,-1,.5,-2,2,0,-1,1,-1,1.5,3,-2,-3,-2.7,.5,-1,.5,-1,.5,-.5],
 [0,1,-2.5,1.5,-2.5,-.5,2,-1.5,.5,2,-2,1,-.5,2.2,-2,.5,-1,2,-.5,1,-2.5,2,.5,-1,1,-2,2,-1,.5,-2,1,-.5,2,0,1.8,-.5,-2.8,-2.3,-.5,.5,-.5,.5,-.5,.5],
 [2.4,-3,2.4,-1.5,-2,.8,0,-.5,-1,1,2,-1,.5,2,-1.5,0,2,1,-1,2,-2,0,1,2,-1,1,-.5,1,-1.5,2,0,-.5,1,2,-.5,1,.5,2.5,2.4,0,-2,-.5,.5,-.5,.5,-1,.5],
 [1,-1,2,-1,2,.5,-2,-1,.5,1.5,-2.5,.5,2,-2,0,1,2,-1,2,0,1,-.5,2,-1,1.5,-.5,2,1,2,-.3,2.8,-.5,.5,-.5,.5,1],
 [2.9,2.9,-2.5,.5,-2,1.5,.5,-1.5,2.5,-1,1,-2,2,.5,-1,2.5,1,-2,0,1.5,-1,-1,2,.5,-2,2,1,-1,2.5,-1,.5,-1.5,2,1,-2,.5,2,2.9,-1,-1.7,2,1.7,.5,1.5,-.5,1.5,.5,-.5],
 [2,.2,-2.9,2.8,-1.7,.2,-2.9,1,-1,-2.5,0,2,-1,1,-2,.5,-1,2,1,-1.5,-.5,2,.5,-1,2,1,-.5,2.5,-1,1.5,-.5,2,-1,1,-2.5,.5,-1,1.5,-2.5,.5,1.5,-1.2,.5,-.5,.5,-.5],
 [-2.2,-.5,-.3,-2,-2.5,-1,-.5,1,1,2,.5,2,-.5,1,0,-2,1,2,-1,2.5,-1.5,-.5,1,-2,.5,-1,2,0,-2.5,.9,-.8,2.2,.9,-2.7],
 [2.6,-2.5,1.7,-2.5,1.5,-.5,1,-2,1.5,.5,-1,.5,2,-1,-1.5,-.5,1,.5,1.5,-1,.5,2,1,2.5,1.5,.5,2,.5,-1,1,.5,-.5,1,.5,-1,-.5,1,-1,-1.5,.6,-.8,1,2.2,1.7,-2.5],
 [-1.1,2.7,1.7,-1.5,.6,.9,-1.5,2.3,-2.3,-.8,.8,-1.7,-2.3,-1.5,-2.9,.9,1.5,.3,2,1.5],
 [1.5,1.1,-2.8,-.5,1.1,-2.8,3,0,-2.6,-.8,2.4,.7,1.4,-2.8,-.8,.3,.3,1.4,2,1.4,-2.8,-1.3,.3,.5],
 [-1.1,-2.3,.3,2,1.5,.3,2.3,.6,2,-.6,-1.1,-2.3,.6,-1.1,2.8,2],
 [2,-1,-.8,-1.4,.9,.9,-1.4,2.6],
 [1.8,.5,1.8,2.8,1,1,-2.2,.5,.2,-1,2.8,-2.2,-.5,1.6,-.7,1.8,-1.3,-.7],
]
ratio_zero_j = [[],[],[-3,-2,-1,0,1,2,3],[],[],[],[-.5],[-2.7,-1.7,-.7,.3,1.3,2.5],[1,2.9],[],[-3,-2,-1,0,1,2,3],[],[-3,-2,-1,0,1,2,3],[-3,-2,-1,0,1,2,3],[-3,-2,-1,0,1,2,3],[-3,-2,-1,0,1,2,3],[-3,-2,-1,0,1,2,3]]
ratio_absent_j = [[],[],[-2.2],[],[],[],[],[],[],[-2.3],[.5],[-1.3],[],[-2.8,-1,0,1,2.8],[-1,2.9],[-1.6,0,.8],[-1.8,-1.4,3]]

# grey guide positions on the axes
rpkm_guides = [-2.0]
ratio_guides = [-0.215, 5.48]

GREY, BLUE = "#BDBDBD", "#2A86E6"
BOTTOM_FONT = "Liberation Sans"
TOP_FONT = "Inter"

mg_colors = ["#FFFFFF","#FFFDE3","#FCF6A8","#F2E52A","#BCDB30","#79CE56","#2FA584","#2C7A8E","#45407F","#000000"]
mt_colors = ["#FFFFFF","#FCEBDF","#F9CFB4","#F6A680","#F4815B","#EE5A43","#DE3145","#A01A5D","#6F1A5E","#3F1650","#0B0814"]
def cscale(colors): return [[i / (len(colors) - 1), c] for i, c in enumerate(colors)]

def expand(base, stripes, n=288):
    row = np.repeat(base, n // len(base))[:n].astype(float)
    for col, lvl in stripes:
        row[col] = lvl
    return row.tolist()
mg_z = [expand(b, s) for b, s in zip(mg_base, mg_stripes)]
def fit(row, n): return (row + [row[-1]] * n)[:n]
mt_z = [fit(r, 78) for r in mt_rows]

fig = go.Figure()
fig.add_trace(go.Heatmap(z=mg_z, colorscale=cscale(mg_colors), zmin=0, zmax=9, showscale=False, xaxis="x", yaxis="y", hoverinfo="skip"))
fig.add_trace(go.Heatmap(z=mt_z, colorscale=cscale(mt_colors), zmin=0, zmax=10, showscale=False, xaxis="x2", yaxis="y2", hoverinfo="skip"))

panels = [(cpg_x, cpg_j, cpg_median, None, None, None, ("x3","y3"), ("x4","y4")),
          (rpkm_x, rpkm_j, rpkm_median, rpkm_zero_j, Z, None, ("x5","y5"), ("x6","y6")),
          (ratio_x, ratio_j, ratio_median, ratio_zero_j, R0, ratio_absent_j, ("x7","y7"), ("x8","y8"))]
for xs, js, med, zj, zpos, aj, top, bot in panels:
    for part, (xa, ya) in ((range(0, 3), top), (range(3, 17), bot)):
        px_, py_, mx, my = [], [], [], []
        off = part[0]
        for r in part:
            for a, b in zip(xs[r], js[r]):
                px_.append(a); py_.append(r - off + b / 10)
            if zj:
                for b in zj[r]:
                    px_.append(zpos); py_.append(r - off + b / 10)
            if aj:
                for b in aj[r]:
                    px_.append(NM); py_.append(r - off + b / 10)
            mx += [med[r], med[r], None]; my += [r - off - .44, r - off + .44, None]
        fig.add_trace(go.Scatter(x=px_, y=py_, mode="markers", marker=dict(size=6, color=GREY), xaxis=xa, yaxis=ya, showlegend=False, hoverinfo="skip"))
        fig.add_trace(go.Scatter(x=mx, y=my, mode="lines", line=dict(color=BLUE, width=2.8), xaxis=xa, yaxis=ya, showlegend=False, hoverinfo="skip"))

shapes = []
for guides, (xa1, xa2, ya1, ya2) in ((rpkm_guides, ("x5","x6","y5","y6")), (ratio_guides, ("x7","x8","y7","y8"))):
    for g in guides:
        for xa, ya in ((xa1, ya1), (xa2, ya2)):
            shapes.append(dict(type="line", xref=xa, yref=ya + " domain", x0=g, x1=g, y0=0, y1=1, line=dict(color="#BBBBBB", width=1), layer="below"))
# big arrow between the two parts of the figure
ax0, ax1, hx0, hx1, ay0, ay1, ay2 = 630, 660, 600, 690, 693, 927, 1018
shapes.append(dict(type="path", xref="paper", yref="paper", fillcolor="#00AEEF", line=dict(width=0),
    path=f"M{px(ax0)},{py(ay0)} L{px(ax1)},{py(ay0)} L{px(ax1)},{py(ay1)} L{px(hx1)},{py(ay1)} L{px((hx0+hx1)/2)},{py(ay2)} L{px(hx0)},{py(ay1)} L{px(ax0)},{py(ay1)} Z"))

def ann(text, x, y, size, font):
    return dict(text=text, x=px(x), y=py(y), xref="paper", yref="paper", showarrow=False, xanchor="center", yanchor="middle",
                font=dict(family=font, size=size, color="#222222"))
annotations = [ann("Faecal metagenomes", 618, 27, 25.8, TOP_FONT), ann("Faecal metatranscriptomes", 1059, 27, 25.8, TOP_FONT),
    ann("Metagenome<br>(N = 100)", 381, 1088, 17.5, BOTTOM_FONT), ann("Metatranscriptome<br>(N = 78)", 738, 1088, 17.5, BOTTOM_FONT),
    ann("Ratio<br>(N = 78)", 1096, 1088, 17.5, BOTTOM_FONT), ann("CPG", 381, 1678, 17.5, BOTTOM_FONT),
    ann("RPKM", 739, 1678, 17.5, BOTTOM_FONT), ann("RPKM/CPG", 1096, 1678, 17.5, BOTTOM_FONT)]

def heat_x(x0, x1, anchor): return dict(domain=[px(x0), px(x1)], anchor=anchor, showticklabels=False, ticks="", showgrid=False, zeroline=False, showline=True, mirror=True, linecolor="#222222", linewidth=1.2)
def heat_y(y0, y1, anchor, **kw): return dict(domain=[py(y1), py(y0)], anchor=anchor, autorange="reversed", showgrid=False, zeroline=False, showline=True, mirror=True, linecolor="#222222", linewidth=1.2, **kw)
layout = dict(width=W, height=H, margin=dict(l=0, r=0, t=0, b=0), paper_bgcolor="white", plot_bgcolor="white", shapes=shapes, annotations=annotations, showlegend=False,
    xaxis=heat_x(401.5, 833, "y"), xaxis2=heat_x(844, 1274, "y2"),
    yaxis=heat_y(84, 653, "x", tickmode="array", tickvals=list(range(17)), ticktext=heat_labels, ticks="", ticklabelstandoff=3, tickfont=dict(family=TOP_FONT, size=16.4, color="#222222")),
    yaxis2=heat_y(84, 653, "x2", showticklabels=False, ticks=""))

tickf = dict(family=BOTTOM_FONT, size=14, color="#222222")
spec = [(207, 555, [-0.313, 6.42], [0, 2, 4, 6], ["0", "2", "4", "6"], 3, "#222222"),
        (564.7, 912.7, [-2.59, 3.96], [Z, -1, 0, 1, 2, 3], ["0", "10<sup>-1</sup>", "10<sup>0</sup>", "10<sup>1</sup>", "10<sup>2</sup>", "10<sup>3</sup>"], 5, "#222222"),
        (922, 1270, [-1.0, 6.25], [R0, 0, 1, 2, 3, 4, 5, NM], ["0", "10<sup>0</sup>", "10<sup>1</sup>", "10<sup>2</sup>", "10<sup>3</sup>", "10<sup>4</sup>", "10<sup>5</sup>", "Not in<br>metag"], 7, "#777777")]
for x0, x1, rng, tv, tt, n, ycol in spec:
    first = n == 3
    d = [px(x0), px(x1)]
    ytick = dict(showticklabels=first, ticks="outside" if first else "", ticklen=6, tickcolor="#222222",
                 tickfont=dict(family=BOTTOM_FONT, size=12.7, color="#222222"), ticklabelstandoff=2)
    layout[f"xaxis{n}"] = dict(domain=d, range=rng, anchor=f"y{n}", visible=False)
    layout[f"xaxis{n+1}"] = dict(domain=d, range=rng, anchor=f"y{n+1}", tickmode="array", tickvals=tv, ticktext=tt, ticks="outside", ticklen=5, tickwidth=1, tickcolor="#222222",
        showgrid=False, zeroline=False, showline=True, linecolor="#222222", linewidth=1, tickfont=tickf, ticklabelstandoff=2)
    layout[f"yaxis{n}"] = dict(domain=[py(1209), py(1115)], range=[2.62, -0.6], anchor=f"x{n}", showgrid=False, zeroline=False, showline=True, linecolor=ycol, linewidth=1.3,
        tickmode="array", tickvals=[0, 1, 2], ticktext=row_labels_top, **ytick)
    layout[f"yaxis{n+1}"] = dict(domain=[py(1636), py(1222)], range=[13.59, -0.62], anchor=f"x{n+1}", showgrid=False, zeroline=False, showline=True, linecolor=ycol, linewidth=1.3,
        tickmode="array", tickvals=list(range(14)), ticktext=row_labels_bottom, **ytick)
fig.update_layout(**layout)
fig.write_html("out.html", config={"displayModeBar": False}, post_script="document.body.style.margin='0';")
